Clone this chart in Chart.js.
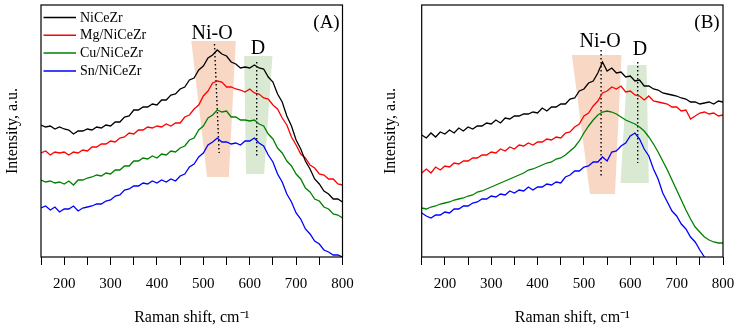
<!DOCTYPE html>
<html>
<head>
<meta charset="utf-8">
<script src="https://cdn.jsdelivr.net/npm/chart.js@4.4.1/dist/chart.umd.min.js"></script>
<style>
  html, body { margin: 0; padding: 0; background: #fff; }
  #wrap { position: relative; width: 738px; height: 329px; }
  #chartA { position: absolute; left: 0; top: 0; }
  #chartB { position: absolute; left: 370px; top: 0; }
</style>
</head>
<body>
<div id="wrap">
  <canvas id="chartA" width="370" height="329"></canvas>
  <canvas id="chartB" width="368" height="329"></canvas>
</div>
<script>
// ====================
// Data
// ====================
const shift = [150,160,170,180,190,200,210,220,230,240,250,260,270,280,290,300,310,320,330,340,
  350,360,370,380,390,400,410,420,430,440,450,460,470,480,490,500,510,520,530,540,
  550,560,570,580,590,600,610,620,630,640,650,660,670,680,690,700,710,720,730,740,
  750,760,770,780,790,800];

const sampleNames = ["NiCeZr", "Mg/NiCeZr", "Cu/NiCeZr", "Sn/NiCeZr"];
const sampleColors = ["#000000", "#ff0000", "#008000", "#0000ff"];

// panel (A)
const aNiCeZr = [132,130,131,128,130,128,127,123,126,126,128,127,130,129,132,131,135,135,140,141,
  147,147,150,150,153,152,157,157,162,163,168,170,177,179,187,191,199,202,207,203,
  201,195,193,189,190,189,192,189,188,180,175,163,155,141,131,117,108,96,88,78,
  73,66,63,58,58,55];
const aMg = [104,106,102,105,104,105,102,105,104,107,106,110,110,113,113,116,115,119,120,124,
  123,127,127,130,129,131,130,133,131,134,134,140,142,148,152,161,166,174,176,175,
  170,170,168,167,165,168,164,163,159,158,152,148,139,132,120,112,103,99,92,89,
  83,82,78,78,73,72];
const aCu = [77,75,76,74,75,73,76,72,77,77,79,80,82,81,84,83,87,87,91,91,
  96,96,99,98,101,99,103,102,106,105,109,111,117,119,127,131,139,142,147,145,
  146,140,140,137,137,136,137,133,131,123,118,109,104,96,91,83,78,69,65,58,
  56,50,48,43,42,39];
const aSn = [49,51,47,50,45,48,48,51,46,49,50,51,53,53,56,57,61,62,67,68,
  71,71,74,73,76,74,77,75,78,76,81,83,90,93,100,104,112,115,119,115,
  115,113,114,112,116,116,119,114,111,102,95,83,75,63,55,44,38,28,23,16,
  13,7,5,2,2,0];

// panel (B)
const bNiCeZr = [122,119,124,120,125,123,127,124,129,126,130,128,131,131,134,133,137,134,139,138,
  141,141,143,143,145,144,149,146,150,150,153,153,158,159,166,168,174,176,184,195,
  186,189,184,185,180,181,176,177,171,171,168,167,164,163,162,161,159,158,155,155,
  153,154,155,153,156,155];
const bMg = [84,88,84,90,87,91,90,94,93,96,96,99,99,102,102,105,104,108,106,110,
  108,112,111,114,112,115,115,118,117,120,119,124,125,130,133,141,144,151,156,164,
  166,170,168,171,165,166,162,161,157,161,156,155,154,153,150,150,146,147,138,141,
  144,145,143,144,141,142];
const bCu = [49,48,50,51,53,54,55,57,58,59,61,62,65,66,68,70,72,74,76,78,
  80,82,84,87,88,90,92,94,95,98,99,102,106,110,116,124,131,137,142,145,
  146,145,143,140,137,135,133,130,126,120,113,105,96,87,77,67,57,47,38,30,
  25,20,17,15,14,14];
const bSn = [44,41,39,42,42,45,44,48,48,51,51,54,55,58,58,61,60,63,62,66,
  64,67,66,70,67,70,70,73,72,75,74,80,82,86,86,90,91,95,95,100,
  96,105,106,111,114,121,124,118,108,101,88,78,64,55,46,41,33,28,20,15,
  7,0,-5,-9,-13,-16];

const xTickLabels = [200, 300, 400, 500, 600, 700, 800];

// band marks: corners [shift, intensity]
const niOBandA = [[474,216],[570,216],[555,80],[508,80]];
const dBandA = [[588,201],[649,201],[631,83],[592,83]];
const niOBandB = [[474,202],[581,202],[567,63],[513,63]];
const dBandB = [[594,192],[635,192],[640,74],[579,74]];

const niOLineA = [[524,213],[534,104]];
const dLineA = [[615,195],[615,100]];
const niOLineB = [[537,207],[537,80]];
const dLineB = [[616,195],[616,94]];

const niOLabelA = [519,223];
const dLabelA = [618,208];
const niOLabelB = [535,215];
const dLabelB = [621,207];

// ====================
// Helpers
// ====================
const serif = '"Liberation Serif", "Times New Roman", serif';
Chart.defaults.font.family = serif;
Chart.defaults.color = "#000";

function seriesSet(values, i) {
  return {
    label: sampleNames[i],
    data: shift.map((s, k) => ({ x: s, y: values[k] })),
    borderColor: sampleColors[i],
    borderWidth: 1.3,
    pointRadius: 0,
    tension: 0,
    fill: false
  };
}

function dottedSet(pts) {
  return {
    label: "",
    data: pts.map(p => ({ x: p[0], y: p[1] })),
    borderColor: "#000",
    borderWidth: 1.4,
    borderDash: [1.5, 2.5],
    pointRadius: 0,
    fill: false
  };
}

const panelPlugin = {
  id: "panel",
  beforeDatasetsDraw(chart, args, opts) {
    const { ctx, scales: { x, y } } = chart;
    ctx.save();
    opts.bands.forEach(b => {
      ctx.beginPath();
      b.pts.forEach((p, i) => {
        const px = x.getPixelForValue(p[0]);
        const py = y.getPixelForValue(p[1]);
        if (i === 0) ctx.moveTo(px, py); else ctx.lineTo(px, py);
      });
      ctx.closePath();
      ctx.fillStyle = b.color;
      ctx.fill();
    });
    ctx.restore();
  },
  afterDatasetsDraw(chart, args, opts) {
    const { ctx, chartArea: a, scales: { x, y } } = chart;
    ctx.save();
    // frame
    ctx.strokeStyle = "#000";
    ctx.lineWidth = 1.2;
    ctx.strokeRect(a.left, a.top, a.right - a.left, a.bottom - a.top);

    // band labels
    ctx.fillStyle = "#000";
    ctx.textAlign = "center";
    ctx.textBaseline = "middle";
    ctx.font = "20px " + serif;
    opts.labels.forEach(l => {
      ctx.fillText(l.text, x.getPixelForValue(l.at[0]), y.getPixelForValue(l.at[1]));
    });
    ctx.font = "19px " + serif;
    ctx.fillText(opts.tag, a.right - 16, a.top + 18);

    // legend
    if (opts.legend) {
      ctx.font = "14px " + serif;
      ctx.textAlign = "left";
      sampleNames.forEach((name, i) => {
        const ly = a.top + 12.5 + i * 17.8;
        ctx.beginPath();
        ctx.strokeStyle = sampleColors[i];
        ctx.lineWidth = 1.5;
        ctx.moveTo(a.left + 2.5, ly);
        ctx.lineTo(a.left + 35, ly);
        ctx.stroke();
        ctx.fillText(name, a.left + 39, ly + 0.5);
      });
    }
    ctx.restore();
  }
};

function makePanel(canvasId, series, bands, lines, labels, tag, yWidth, rightPad, titlePad, legend) {
  return new Chart(document.getElementById(canvasId), {
    type: "line",
    data: {
      datasets: series.map((v, i) => seriesSet(v, i)).concat(lines.map(dottedSet))
    },
    options: {
      responsive: false,
      animation: false,
      events: [],
      layout: { padding: { top: 5, right: rightPad, bottom: 0, left: 0 } },
      plugins: {
        legend: { display: false },
        tooltip: { enabled: false },
        panel: { bands: bands, labels: labels, tag: tag, legend: legend }
      },
      scales: {
        x: {
          type: "linear",
          min: 150,
          max: 800,
          afterFit: s => { s.height = 72; s.paddingLeft = 0; s.paddingRight = 0; },
          ticks: {
            stepSize: 50,
            autoSkip: false,
            maxRotation: 0,
            padding: 10,
            font: { size: 15 },
            color: "#000",
            callback: v => (xTickLabels.includes(v) ? String(v) : "")
          },
          grid: { drawOnChartArea: false, drawTicks: true, tickLength: 8, color: "#000", lineWidth: 1 },
          border: { display: false },
          title: {
            display: true,
            text: "Raman shift, cm\u207B\u00B9",
            font: { size: 16 },
            color: "#000",
            padding: { top: 0, bottom: 1.5 }
          }
        },
        y: {
          min: 0,
          max: 252,
          afterFit: s => { s.width = yWidth; },
          ticks: { display: false },
          grid: { display: false },
          border: { display: false },
          title: {
            display: true,
            text: "Intensity, a.u.",
            font: { size: 16 },
            color: "#000",
            padding: { top: titlePad, bottom: 0 }
          }
        }
      }
    },
    plugins: [panelPlugin]
  });
}

// ====================
// Panels
// ====================
makePanel("chartA", [aNiCeZr, aMg, aCu, aSn],
  [{ pts: niOBandA, color: "#f8d8c5" }, { pts: dBandA, color: "#d9e9d2" }],
  [niOLineA, dLineA],
  [{ text: "Ni-O", at: niOLabelA }, { text: "D", at: dLabelA }],
  "(A)", 41, 27.5, 3.5, true);

makePanel("chartB", [bNiCeZr, bMg, bCu, bSn],
  [{ pts: niOBandB, color: "#f8d8c5" }, { pts: dBandB, color: "#d9e9d2" }],
  [niOLineB, dLineB],
  [{ text: "Ni-O", at: niOLabelB }, { text: "D", at: dLabelB }],
  "(B)", 51.7, 15, 11, false);
</script>
</body>
</html>
